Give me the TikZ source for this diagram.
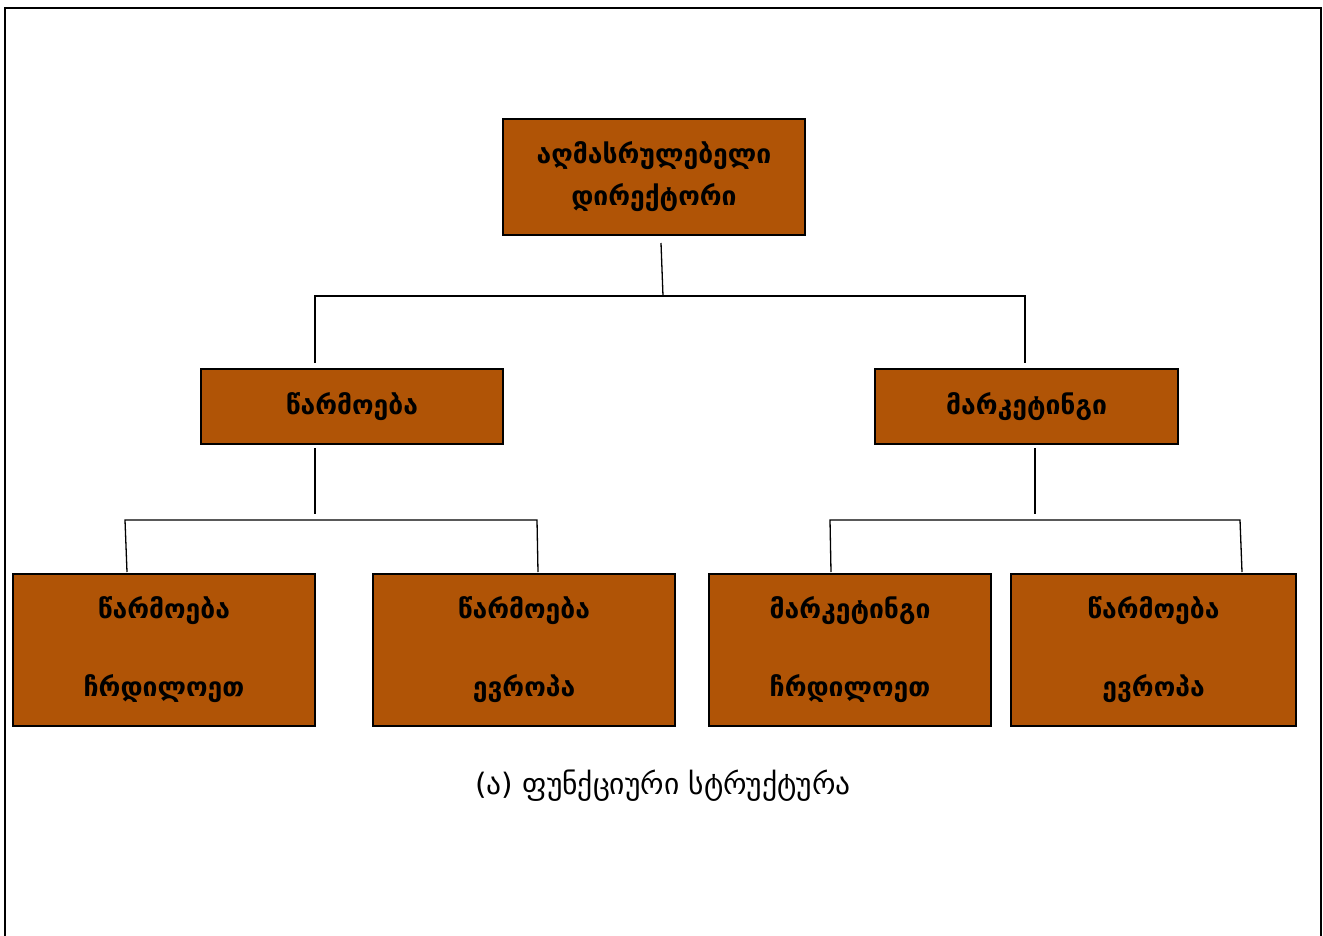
\documentclass[tikz,border=0pt]{standalone}
\usepackage{fontspec}
\newfontfamily\geo{DejaVu Sans}
\definecolor{boxbrown}{RGB}{176,84,6}
\begin{document}
\begin{tikzpicture}[x=1pt,y=-1pt,
  orgbox/.style={draw=black,line width=1.5pt,fill=boxbrown,inner sep=0pt,align=center,font=\geo\bfseries\fontsize{26.5}{32}\selectfont},
  conn/.style={draw=black,line width=1.3pt}]
\useasboundingbox (0,0) rectangle (1323,935);
\fill[white] (0,0) rectangle (1323,935);
\draw[line width=2.2pt] (5,945) -- (5,8) -- (1321,8) -- (1321,945);
% boxes
\node[orgbox,minimum width=302,minimum height=116] (top) at (654,177) {აღმასრულებელი\\[10pt]დირექტორი};
\node[orgbox,minimum width=302,minimum height=75] (prod) at (352,406.5) {წარმოება};
\node[orgbox,minimum width=303,minimum height=75] (mark) at (1026.5,406.5) {მარკეტინგი};
\node[orgbox,minimum width=302,minimum height=152] (b1) at (164,650) {წარმოება\\[46pt]ჩრდილოეთ};
\node[orgbox,minimum width=302,minimum height=152] (b2) at (524,650) {წარმოება\\[46pt]ევროპა};
\node[orgbox,minimum width=282,minimum height=152] (b3) at (850,650) {მარკეტინგი\\[46pt]ჩრდილოეთ};
\node[orgbox,minimum width=285,minimum height=152] (b4) at (1153.5,650) {წარმოება\\[46pt]ევროპა};
\node[font=\geo\fontsize{29.5}{34}\selectfont] (cap) at (663,786) {(ა) ფუნქციური სტრუქტურა};
% junction coordinates
\coordinate (t0) at (661,243);
\coordinate (t1) at (663,296);
\coordinate (hl) at (315,296);
\coordinate (hr) at (1025,296);
\coordinate (pl) at (315,363);
\coordinate (pr) at (1025,363);
\coordinate (p0) at (315,448);
\coordinate (p1) at (315,514);
\coordinate (q0) at (1035,448);
\coordinate (q1) at (1035,514);
\coordinate (la) at (125,520);
\coordinate (lb) at (537,520);
\coordinate (ra) at (830,520);
\coordinate (rb) at (1240,520);
\coordinate (b1t) at (127,572);
\coordinate (b2t) at (538,572);
\coordinate (b3t) at (831,572);
\coordinate (b4t) at (1242,572);
% connectors
\draw[conn] (t0) -- (t1);
\draw[conn] (pl) -- (hl) -- (hr) -- (pr);
\draw[conn] (p0) -- (p1);
\draw[conn] (b1t) -- (la) -- (lb) -- (b2t);
\draw[conn] (q0) -- (q1);
\draw[conn] (b3t) -- (ra) -- (rb) -- (b4t);
\end{tikzpicture}
\end{document}
